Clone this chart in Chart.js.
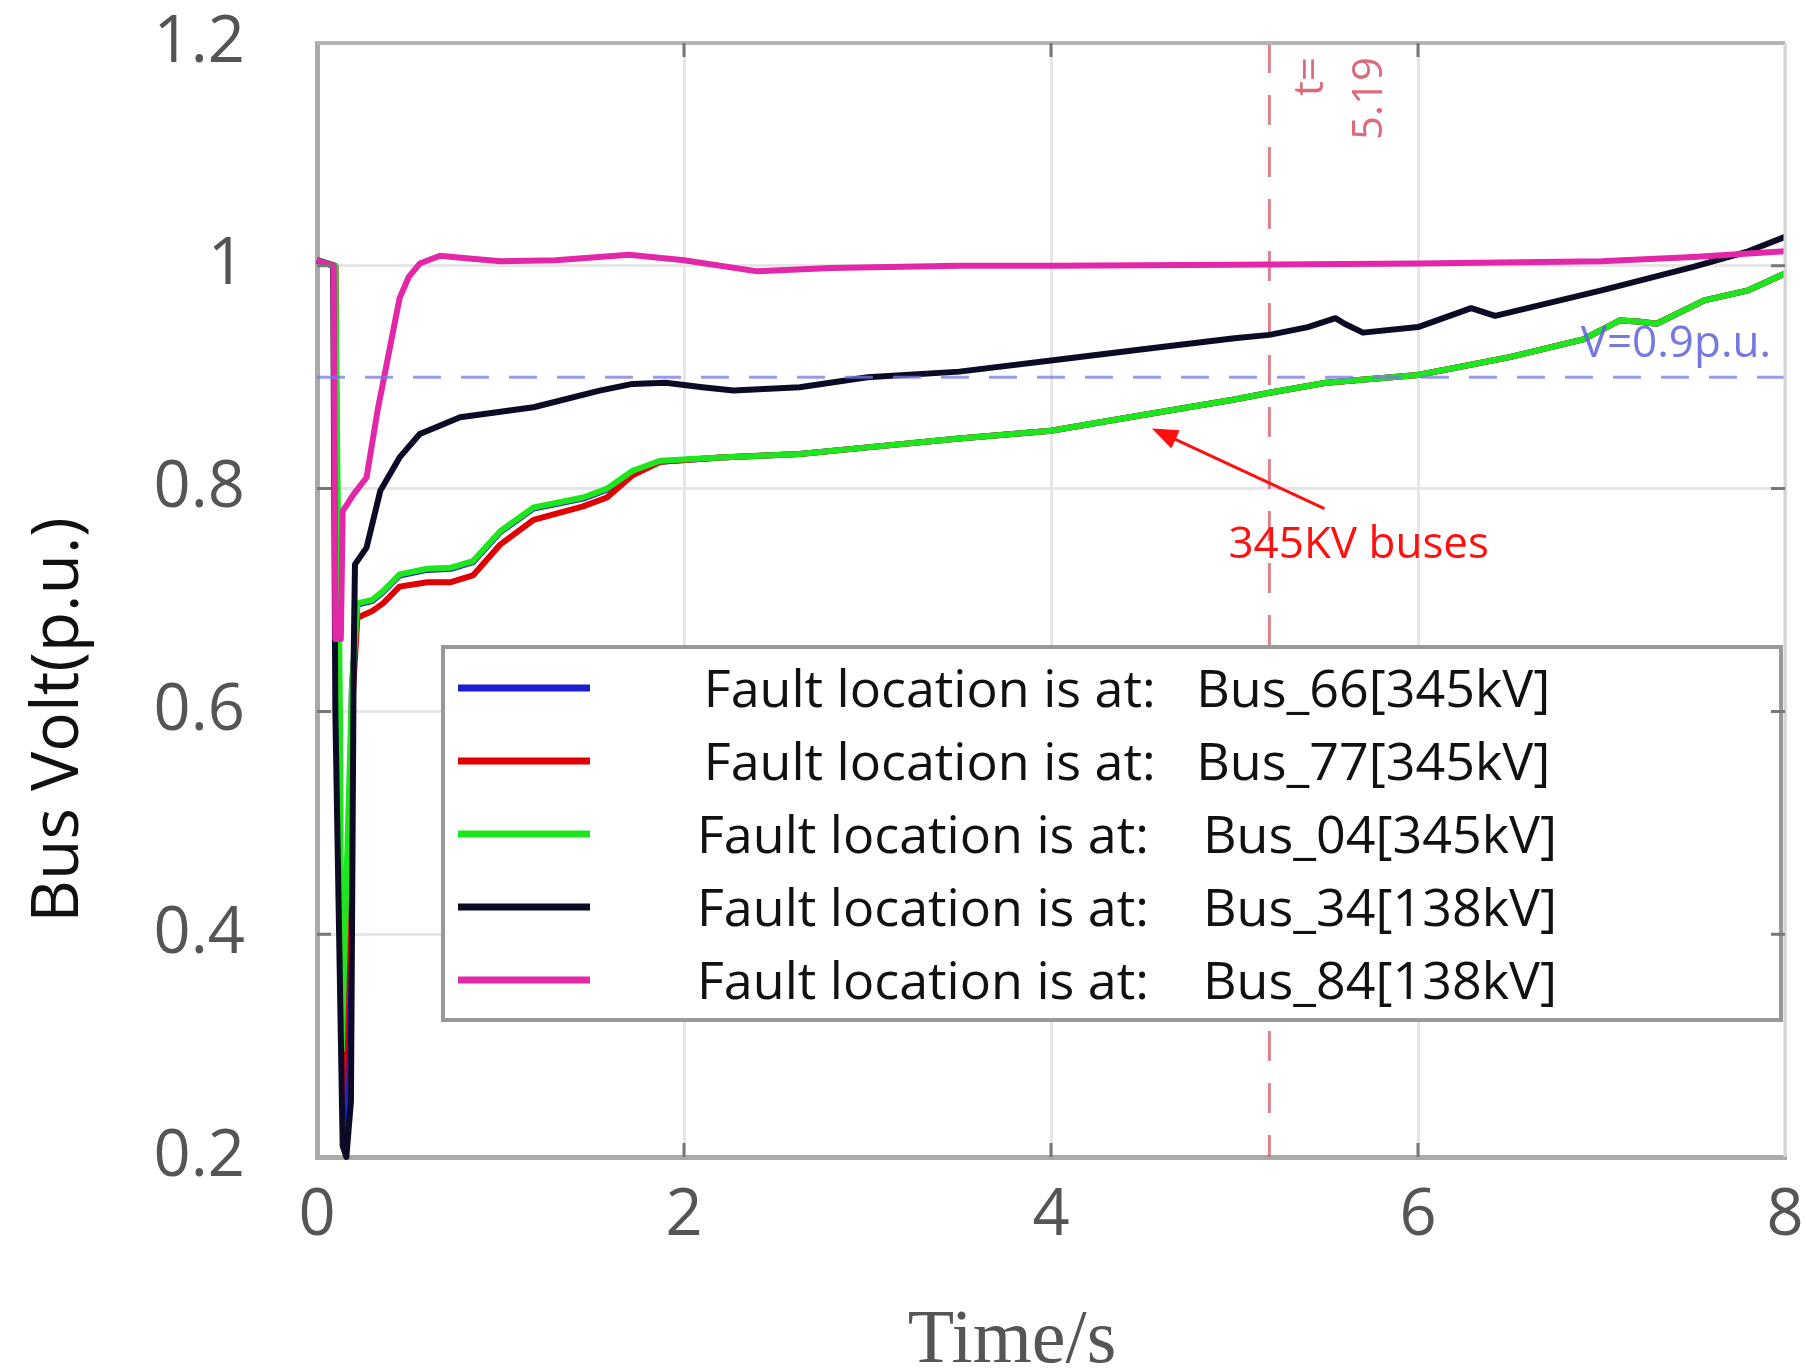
<!DOCTYPE html>
<html>
<head>
<meta charset="utf-8">
<script src="https://cdn.jsdelivr.net/npm/chart.js@4.4.1/dist/chart.umd.min.js"></script>
<style>
  html, body { margin: 0; padding: 0; background: #fff; }
  canvas { display: block; }
</style>
</head>
<body>
<canvas id="voltChart" width="1806" height="1369"></canvas>
<script>
// --- data ---
const legendLabels = [
  'Fault location is at:   Bus_66[345kV]',
  'Fault location is at:   Bus_77[345kV]',
  'Fault location is at:    Bus_04[345kV]',
  'Fault location is at:    Bus_34[138kV]',
  'Fault location is at:    Bus_84[138kV]'
];
const lineColors = ['#1c1cd0', '#e00000', '#1ee61e', '#0b0b26', '#e228a8'];

const xTickValues = [0, 2, 4, 6, 8];
const xTickLabels = ['0', '2', '4', '6', '8'];
const yTickValues = [0.2, 0.4, 0.6, 0.8, 1.0, 1.2];
const yTickLabels = ['0.2', '0.4', '0.6', '0.8', '1', '1.2'];

// Bus_66 (mostly hidden under Bus_04)
const timeBus66 = [0, 0.1, 0.12, 0.15, 0.19, 0.22, 0.3, 0.36, 0.45, 0.6, 0.73, 0.85, 1.0, 1.18, 1.45, 1.58, 1.72, 1.87, 2.2, 2.63, 3, 3.5, 4, 4.5, 5, 5.19, 5.5, 6, 6.5, 6.9, 7.1, 7.2, 7.3, 7.56, 7.8, 8];
const voltBus66 = [1.005, 1.0, 0.5, 0.222, 0.62, 0.696, 0.699, 0.707, 0.722, 0.727, 0.728, 0.734, 0.761, 0.782, 0.791, 0.799, 0.815, 0.824, 0.828, 0.831, 0.837, 0.845, 0.852, 0.866, 0.88, 0.886, 0.895, 0.902, 0.918, 0.934, 0.951, 0.95, 0.948, 0.969, 0.978, 0.993];
// Bus_77
const timeBus77 = [0, 0.1, 0.12, 0.14, 0.19, 0.22, 0.3, 0.36, 0.45, 0.6, 0.73, 0.85, 1.0, 1.18, 1.45, 1.58, 1.72, 1.87, 2.2, 2.63, 3, 3.5, 4, 4.5, 5, 5.19, 5.5, 6, 6.5, 6.9, 7.1, 7.2, 7.3, 7.56, 7.8, 8];
const voltBus77 = [1.005, 1.0, 0.5, 0.247, 0.6, 0.684, 0.69, 0.697, 0.712, 0.716, 0.716, 0.722, 0.75, 0.772, 0.784, 0.792, 0.812, 0.824, 0.828, 0.831, 0.837, 0.845, 0.852, 0.866, 0.88, 0.886, 0.895, 0.902, 0.918, 0.934, 0.951, 0.95, 0.948, 0.969, 0.978, 0.993];
// Bus_04
const timeBus04 = [0, 0.1, 0.125, 0.135, 0.19, 0.22, 0.3, 0.36, 0.45, 0.6, 0.73, 0.85, 1.0, 1.18, 1.45, 1.58, 1.72, 1.87, 2.2, 2.63, 3, 3.5, 4, 4.5, 5, 5.19, 5.5, 6, 6.5, 6.9, 7.1, 7.2, 7.3, 7.56, 7.8, 8];
const voltBus04 = [1.005, 1.0, 0.6, 0.296, 0.62, 0.697, 0.7, 0.708, 0.723, 0.728, 0.729, 0.735, 0.762, 0.783, 0.792, 0.8, 0.816, 0.825, 0.828, 0.831, 0.837, 0.845, 0.852, 0.866, 0.88, 0.886, 0.895, 0.902, 0.918, 0.934, 0.951, 0.95, 0.948, 0.969, 0.978, 0.993];
// Bus_34
const timeBus34 = [0, 0.088, 0.1, 0.14, 0.16, 0.185, 0.2, 0.207, 0.27, 0.345, 0.45, 0.56, 0.78, 1.18, 1.54, 1.72, 1.9, 2.1, 2.27, 2.63, 3, 3.5, 4, 4.5, 5, 5.19, 5.4, 5.55, 5.6, 5.7, 6, 6.29, 6.42, 7, 7.5, 7.8, 8];
const voltBus34 = [1.005, 1.0, 0.6, 0.21, 0.2, 0.25, 0.65, 0.732, 0.747, 0.798, 0.828, 0.849, 0.864, 0.873, 0.888, 0.894, 0.895, 0.891, 0.888, 0.891, 0.9, 0.905, 0.915, 0.925, 0.935, 0.938, 0.945, 0.953, 0.948, 0.94, 0.945, 0.962, 0.955, 0.978, 0.999, 1.013, 1.026];
// Bus_84
const timeBus84 = [0, 0.09, 0.1, 0.13, 0.14, 0.165, 0.2, 0.27, 0.33, 0.38, 0.45, 0.5, 0.56, 0.67, 0.8, 1.0, 1.3, 1.7, 2.0, 2.4, 2.8, 3.5, 4, 5, 6, 7, 7.5, 8];
const voltBus84 = [1.005, 1.0, 0.665, 0.665, 0.78, 0.786, 0.795, 0.81, 0.87, 0.912, 0.971, 0.99, 1.002, 1.009, 1.007, 1.004, 1.005, 1.01, 1.005, 0.995, 0.998, 1.0, 1.0, 1.001, 1.002, 1.004, 1.008, 1.013];

const seriesTimes = [timeBus66, timeBus77, timeBus04, timeBus34, timeBus84];
const seriesVolts = [voltBus66, voltBus77, voltBus04, voltBus34, voltBus84];
const drawOrder = [4, 3, 2, 1, 0]; // pink on top, blue at the bottom

// annotations
const markerTime = 5.19;
const thresholdVolt = 0.9;
const arrowFrom = { x: 5.49, y: 0.782 };
const arrowTo = { x: 4.55, y: 0.854 };

// 枠と内向きの目盛り
const framePlugin = {
  id: 'frame',
  afterDraw(chart) {
    const { ctx, chartArea: a, scales } = chart;
    ctx.save();
    ctx.strokeStyle = '#b4b4b4';
    ctx.lineWidth = 4;
    ctx.beginPath();
    ctx.moveTo(a.left, a.top); ctx.lineTo(a.right, a.top);
    ctx.stroke();
    ctx.strokeStyle = '#d4d4d4';
    ctx.lineWidth = 3;
    ctx.beginPath();
    ctx.moveTo(a.right, a.top); ctx.lineTo(a.right, a.bottom);
    ctx.stroke();
    ctx.strokeStyle = '#777';
    ctx.lineWidth = 3;
    ctx.beginPath();
    xTickValues.slice(1, -1).forEach(v => {
      const px = scales.x.getPixelForValue(v);
      ctx.moveTo(px, a.bottom); ctx.lineTo(px, a.bottom - 14);
      ctx.moveTo(px, a.top); ctx.lineTo(px, a.top + 14);
    });
    yTickValues.slice(1, -1).forEach(v => {
      const py = scales.y.getPixelForValue(v);
      ctx.moveTo(a.left, py); ctx.lineTo(a.left + 14, py);
      ctx.moveTo(a.right, py); ctx.lineTo(a.right - 14, py);
    });
    ctx.stroke();

    // axis titles
    ctx.fillStyle = '#111';
    ctx.font = '66px "Open Sans"';
    ctx.textAlign = 'center';
    ctx.textBaseline = 'alphabetic';
    ctx.save();
    ctx.translate(78, 720);
    ctx.rotate(-Math.PI / 2);
    ctx.fillText('Bus Volt(p.u.)', 0, 0);
    ctx.restore();
    ctx.fillStyle = '#555';
    ctx.font = '76px "Liberation Serif"';
    ctx.fillText('Time/s', 1012, 1362);
    ctx.restore();
  }
};

// 基準線
const guidePlugin = {
  id: 'guides',
  beforeDatasetsDraw(chart) {
    const { ctx, chartArea: a, scales } = chart;
    const mx = scales.x.getPixelForValue(markerTime);
    ctx.save();
    ctx.strokeStyle = 'rgba(205, 90, 105, 0.75)';
    ctx.lineWidth = 3;
    ctx.setLineDash([30, 22]);
    ctx.beginPath();
    ctx.moveTo(mx, a.top); ctx.lineTo(mx, a.bottom);
    ctx.stroke();
    ctx.restore();
  },
  afterDatasetsDraw(chart) {
    const { ctx, chartArea: a, scales } = chart;
    const x = scales.x, y = scales.y;
    ctx.save();
    const ty = y.getPixelForValue(thresholdVolt);
    ctx.strokeStyle = 'rgba(120, 120, 230, 0.75)';
    ctx.lineWidth = 3;
    ctx.setLineDash([28, 20]);
    ctx.beginPath();
    ctx.moveTo(a.left, ty); ctx.lineTo(a.right, ty);
    ctx.stroke();
    ctx.setLineDash([]);

    ctx.fillStyle = 'rgba(95, 95, 220, 0.85)';
    ctx.font = '44px "Open Sans"';
    ctx.textAlign = 'right';
    ctx.textBaseline = 'alphabetic';
    ctx.fillText('V=0.9p.u.', a.right - 14, ty - 20);

    // t= 5.19
    const mx = x.getPixelForValue(markerTime);
    ctx.fillStyle = 'rgba(210, 70, 90, 0.8)';
    ctx.font = '42px "Open Sans"';
    ctx.textBaseline = 'middle';
    [['t=', 42], ['5.19', 101]].forEach(([txt, dx]) => {
      ctx.save();
      ctx.translate(mx + dx, a.top + 14);
      ctx.rotate(-Math.PI / 2);
      ctx.textAlign = 'right';
      ctx.fillText(txt, 0, 0);
      ctx.restore();
    });

    // arrow
    const x0 = x.getPixelForValue(arrowFrom.x), y0 = y.getPixelForValue(arrowFrom.y);
    const x1 = x.getPixelForValue(arrowTo.x), y1 = y.getPixelForValue(arrowTo.y);
    const ang = Math.atan2(y1 - y0, x1 - x0);
    ctx.strokeStyle = '#ff1010';
    ctx.fillStyle = '#ff1010';
    ctx.lineWidth = 3;
    ctx.beginPath();
    ctx.moveTo(x0, y0);
    ctx.lineTo(x1 - 14 * Math.cos(ang), y1 - 14 * Math.sin(ang));
    ctx.stroke();
    ctx.beginPath();
    ctx.moveTo(x1, y1);
    ctx.lineTo(x1 - 26 * Math.cos(ang) + 10 * Math.sin(ang), y1 - 26 * Math.sin(ang) - 10 * Math.cos(ang));
    ctx.lineTo(x1 - 26 * Math.cos(ang) - 10 * Math.sin(ang), y1 - 26 * Math.sin(ang) + 10 * Math.cos(ang));
    ctx.closePath();
    ctx.fill();

    ctx.font = '44px "Open Sans"';
    ctx.textAlign = 'left';
    ctx.textBaseline = 'alphabetic';
    ctx.fillText('345KV buses', x0 - 96, y0 + 49);
    ctx.restore();
  }
};

// 凡例（グラフの中に描く）
const legendBoxPlugin = {
  id: 'legendBox',
  afterDraw(chart) {
    const { ctx } = chart;
    const box = { left: 443, top: 647, right: 1781, bottom: 1020 };
    ctx.save();
    ctx.fillStyle = '#fff';
    ctx.fillRect(box.left, box.top, box.right - box.left, box.bottom - box.top);
    ctx.strokeStyle = '#999';
    ctx.lineWidth = 4;
    ctx.strokeRect(box.left, box.top, box.right - box.left, box.bottom - box.top);
    chart.data.datasets.forEach((ds, i) => {
      const rowY = 688 + i * 73;
      ctx.strokeStyle = ds.borderColor;
      ctx.lineWidth = 7;
      ctx.beginPath();
      ctx.moveTo(458, rowY); ctx.lineTo(590, rowY);
      ctx.stroke();
      ctx.fillStyle = '#111';
      ctx.font = '52px "Open Sans"';
      ctx.textAlign = 'center';
      ctx.textBaseline = 'alphabetic';
      ctx.fillText(ds.label, 1127, rowY + 19);
    });
    ctx.restore();
  }
};

const ctx = document.getElementById('voltChart').getContext('2d');
new Chart(ctx, {
  type: 'line',
  data: {
    datasets: legendLabels.map((label, i) => ({
      label: label,
      data: seriesTimes[i].map((t, j) => ({ x: t, y: seriesVolts[i][j] })),
      borderColor: lineColors[i],
      backgroundColor: lineColors[i],
      borderWidth: 6,
      pointRadius: 0,
      tension: 0,
      fill: false,
      order: drawOrder[i],
      borderJoinStyle: 'round',
      clip: 4
    }))
  },
  options: {
    responsive: false,
    animation: false,
    layout: { padding: { top: 43, right: 21, left: 0, bottom: 0 } },
    plugins: {
      legend: { display: false },
      tooltip: { enabled: false }
    },
    scales: {
      x: {
        type: 'linear',
        min: 0,
        max: 8,
        afterFit: s => { s.height = 212; s.paddingLeft = 0; s.paddingRight = 0; },
        afterBuildTicks: s => { s.ticks = xTickValues.map(v => ({ value: v })); },
        ticks: {
          color: '#555',
          font: { family: 'Open Sans', size: 65 },
          padding: 20,
          maxRotation: 0,
          autoSkip: false,
          callback: (v) => xTickLabels[xTickValues.indexOf(v)]
        },
        grid: { color: '#e6e6e6', lineWidth: 3, drawTicks: false },
        border: { color: '#aaa', width: 5 }
      },
      y: {
        min: 0.2,
        max: 1.2,
        afterFit: s => { s.width = 317; s.paddingTop = 0; s.paddingBottom = 0; },
        afterBuildTicks: s => { s.ticks = yTickValues.map(v => ({ value: v })); },
        ticks: {
          color: '#555',
          font: { family: 'Open Sans', size: 65 },
          padding: 72,
          autoSkip: false,
          callback: (v) => yTickLabels[yTickValues.findIndex(t => Math.abs(t - v) < 1e-6)]
        },
        grid: { color: '#e6e6e6', lineWidth: 3, drawTicks: false },
        border: { color: '#aaa', width: 5 }
      }
    }
  },
  plugins: [guidePlugin, legendBoxPlugin, framePlugin]
});
</script>
</body>
</html>
